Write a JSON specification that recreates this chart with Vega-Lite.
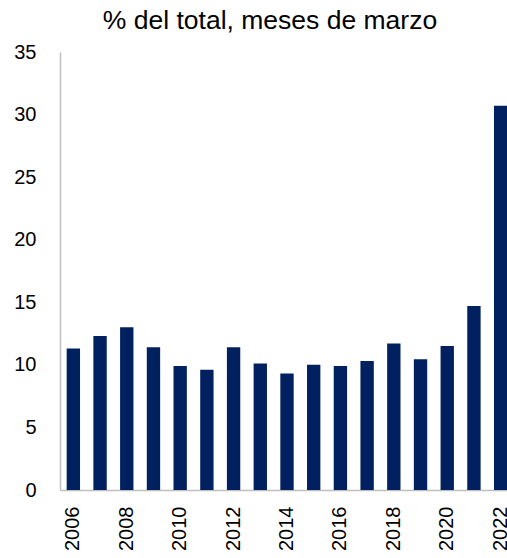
{
  "$schema": "https://vega.github.io/schema/vega-lite/v6.json",
  "width": 454,
  "height": 438,
  "autosize": {"type": "none"},
  "padding": {"left": 60, "top": 52, "right": 0, "bottom": 68},
  "background": "white",
  "title": {
    "text": "% del total, meses de marzo",
    "font": "Liberation Sans",
    "fontSize": 26.5,
    "fontWeight": "normal",
    "color": "#000000",
    "frame": "group",
    "dx": -17,
    "offset": 8
  },
  "config": {
    "view": {"stroke": null},
    "axis": {"labelFont": "Liberation Sans", "labelFontSize": 20, "labelColor": "#000000", "grid": false, "ticks": false, "domainColor": "#bfbfbf", "domainWidth": 1.5, "title": null}
  },
  "data": {
    "values": [
      {"year": "2006", "value": 11.3},
      {"year": "2007", "value": 12.3},
      {"year": "2008", "value": 13.0},
      {"year": "2009", "value": 11.4},
      {"year": "2010", "value": 9.9},
      {"year": "2011", "value": 9.6},
      {"year": "2012", "value": 11.4},
      {"year": "2013", "value": 10.1},
      {"year": "2014", "value": 9.3},
      {"year": "2015", "value": 10.0},
      {"year": "2016", "value": 9.9},
      {"year": "2017", "value": 10.3},
      {"year": "2018", "value": 11.7},
      {"year": "2019", "value": 10.45},
      {"year": "2020", "value": 11.5},
      {"year": "2021", "value": 14.7},
      {"year": "2022", "value": 30.7}
    ]
  },
  "mark": {"type": "bar", "color": "#002060"},
  "encoding": {
    "x": {
      "field": "year",
      "type": "ordinal",
      "scale": {"paddingInner": 0.5, "paddingOuter": 0.25},
      "axis": {
        "labelAngle": -90,
        "labelAlign": "right",
        "labelBaseline": "middle",
        "labelPadding": 16,
        "values": ["2006", "2008", "2010", "2012", "2014", "2016", "2018", "2020", "2022"]
      }
    },
    "y": {
      "field": "value",
      "type": "quantitative",
      "scale": {"domain": [0, 35], "nice": false},
      "axis": {"values": [0, 5, 10, 15, 20, 25, 30, 35], "labelPadding": 24}
    }
  }
}
